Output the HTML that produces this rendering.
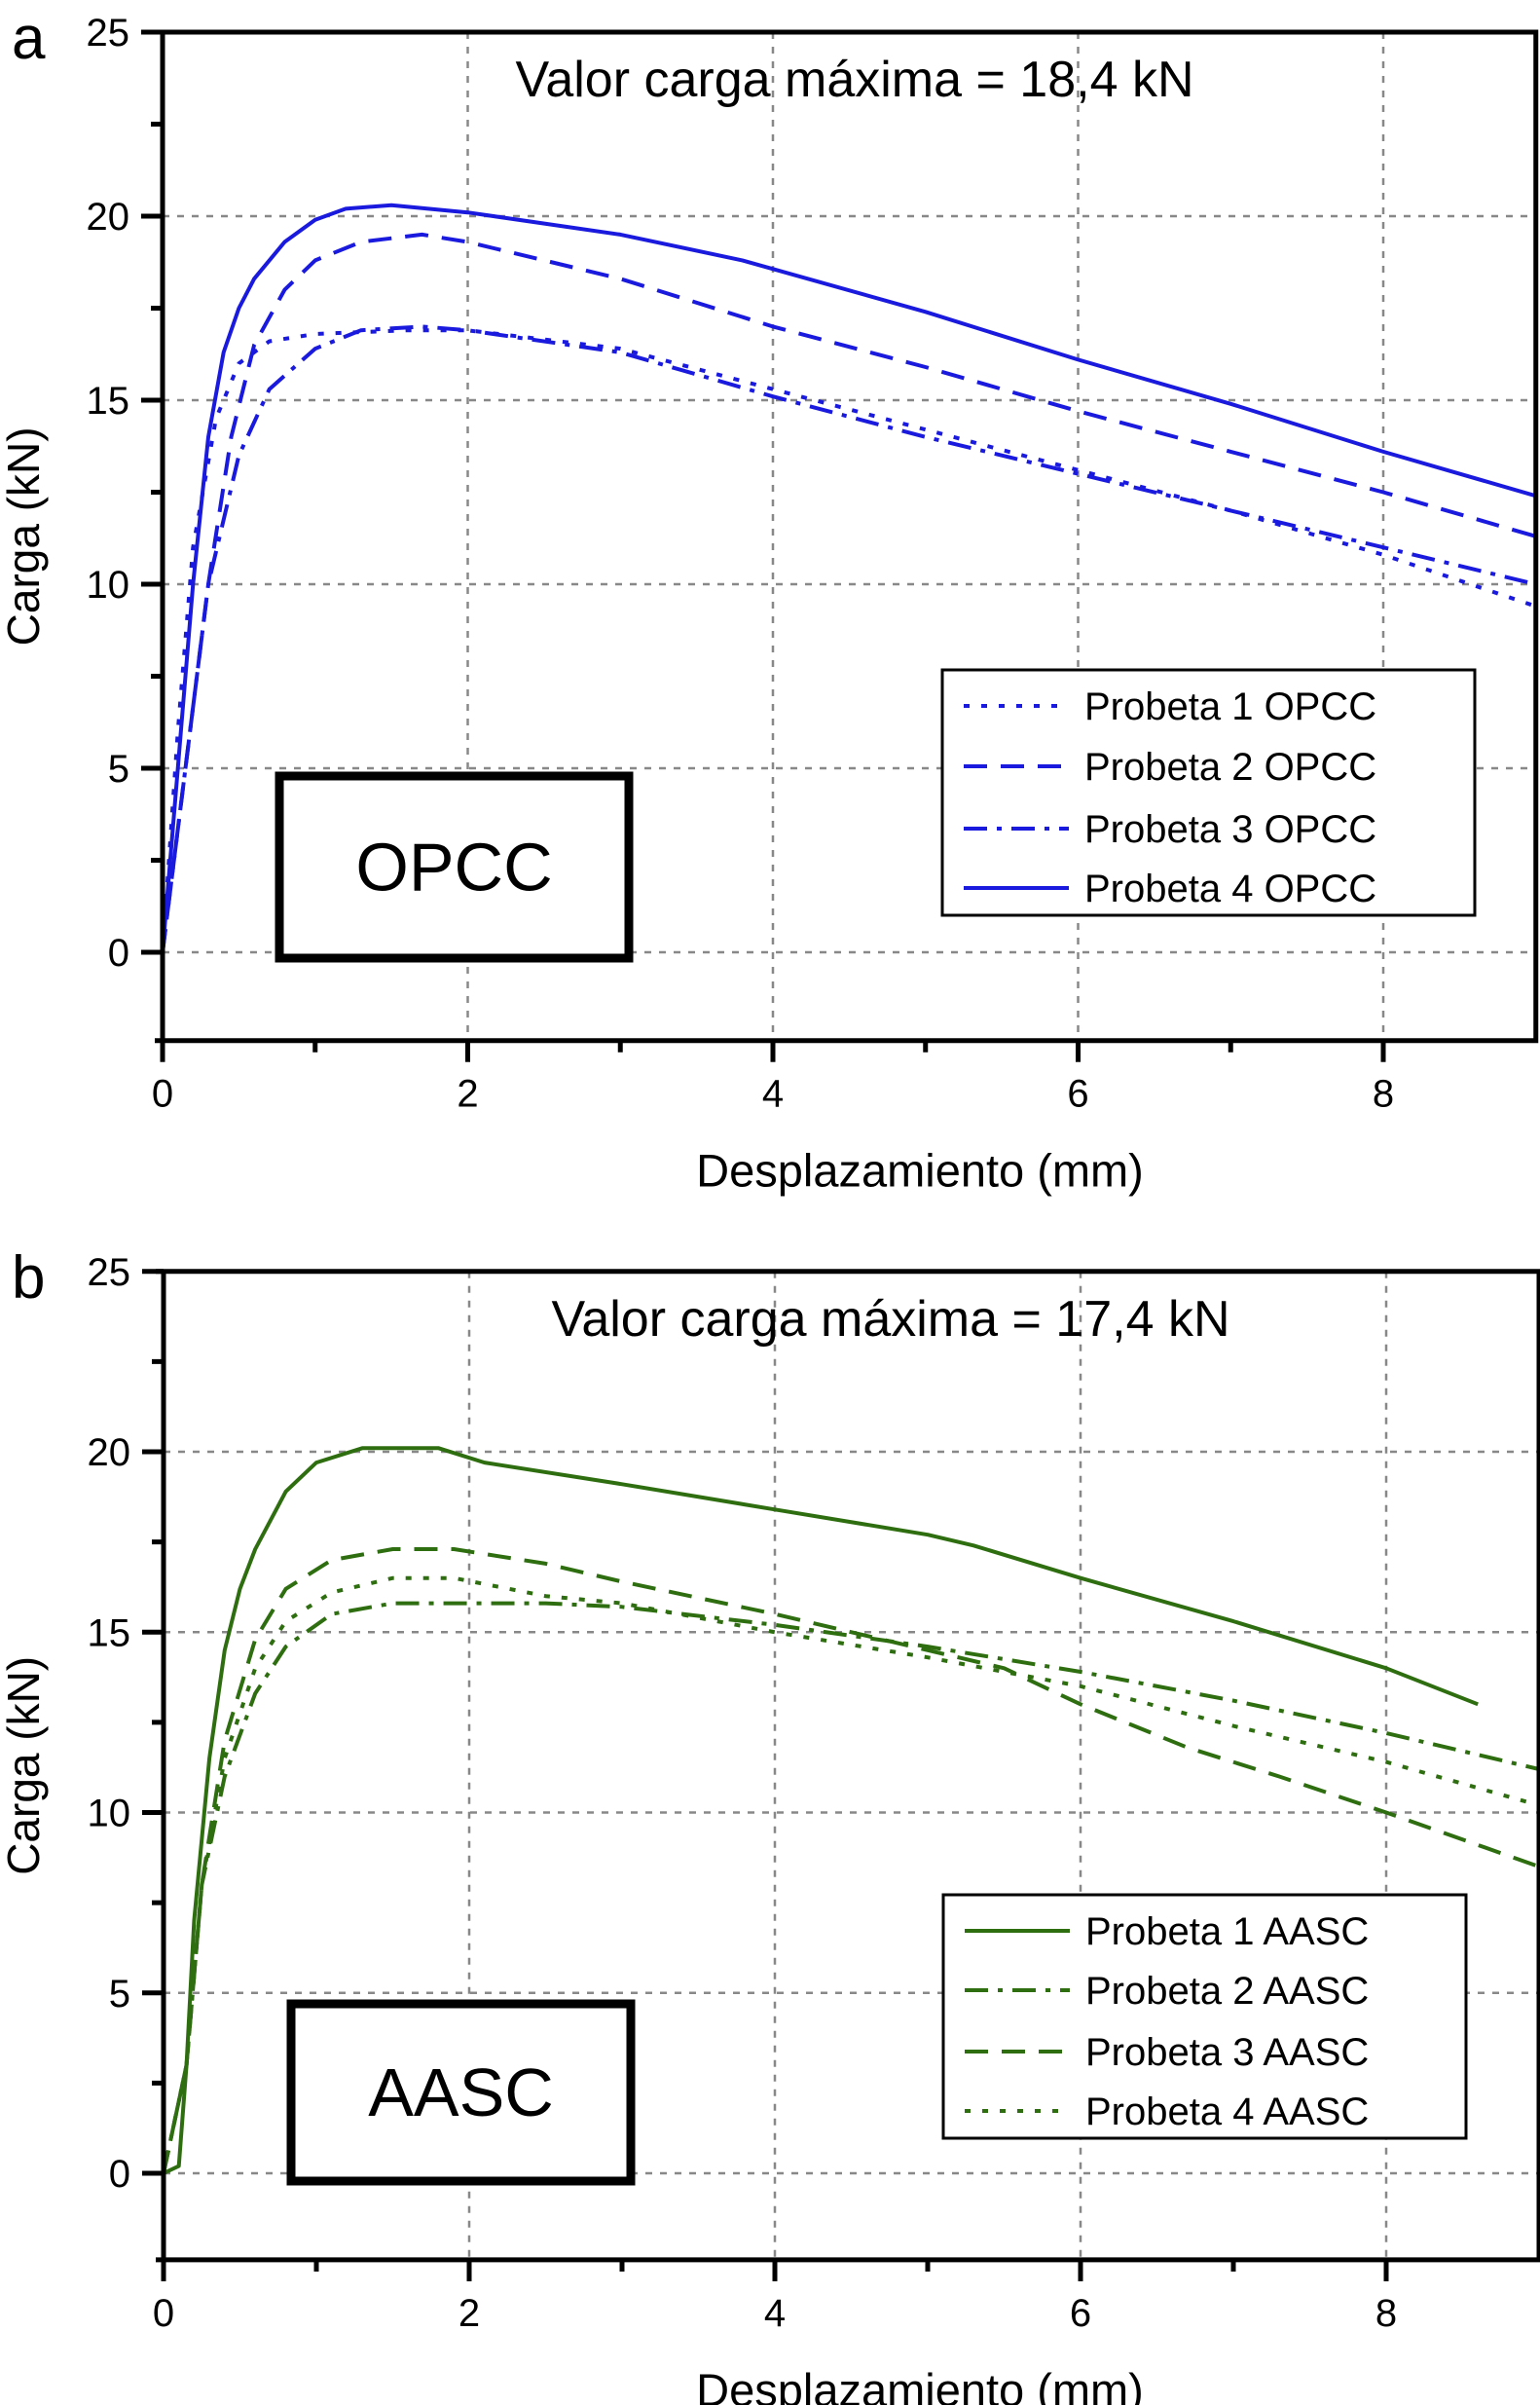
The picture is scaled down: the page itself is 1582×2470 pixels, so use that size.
<!DOCTYPE html>
<html><head><meta charset="utf-8">
<style>
html,body{margin:0;padding:0;background:#fff;}
svg{display:block;font-family:"Liberation Sans",Arial,sans-serif;}
</style></head>
<body>
<svg id="fig" xmlns="http://www.w3.org/2000/svg" width="1582" height="2470" viewBox="0 0 1582 2470">
<rect width="1582" height="2470" fill="#fff"/>
<g id="pa"></g>
<g id="pb"></g>
</svg>
<script>
// ---- Panel A data (OPCC) ----
const xTicks = [0, 2, 4, 6, 8];
const yTicks = [0, 5, 10, 15, 20, 25];
const a1x = [0,0.1,0.2,0.35,0.5,0.7,1,1.6,2,3,4,5,6,7,8,9];
const a1y = [0,6,11,14.5,16,16.6,16.8,16.9,16.9,16.4,15.3,14.2,13.1,12.0,10.8,9.4];
const a2x = [0,0.15,0.3,0.45,0.6,0.8,1.0,1.3,1.7,2,3,4,5,6,7,8,9];
const a2y = [0,5,10,14,16.5,18,18.8,19.3,19.5,19.3,18.3,17.0,15.9,14.7,13.6,12.5,11.3];
const a3x = [0,0.15,0.3,0.5,0.7,1,1.3,1.7,2,3,4,5,6,7,8,9];
const a3y = [0,5,10,13.5,15.3,16.4,16.9,17.0,16.9,16.3,15.1,14.0,13.0,12.0,11.0,10.0];
const a4x = [0,0.1,0.2,0.3,0.4,0.5,0.6,0.8,1.0,1.2,1.5,2,3,3.8,5,6,7,8,9];
const a4y = [0,5,10,14,16.3,17.5,18.3,19.3,19.9,20.2,20.3,20.1,19.5,18.8,17.4,16.1,14.9,13.6,12.4];
// ---- Panel B data (AASC) ----
const b1x = [0,0.1,0.15,0.2,0.3,0.4,0.5,0.6,0.8,1.0,1.3,1.8,2.1,3,4,5,5.3,6,7,8,8.6];
const b1y = [0,0.2,3,7,11.5,14.5,16.2,17.3,18.9,19.7,20.1,20.1,19.7,19.1,18.4,17.7,17.4,16.5,15.3,14.0,13.0];
const b2x = [0,0.15,0.25,0.4,0.6,0.8,1.1,1.5,2,2.5,3,4,5,6,7,8,9];
const b2y = [0,3,8,11,13.3,14.6,15.5,15.8,15.8,15.8,15.7,15.2,14.6,13.9,13.1,12.2,11.2];
const b3x = [0,0.15,0.25,0.4,0.6,0.8,1.1,1.5,1.9,2.5,3,4,5,5.5,6,6.7,7.3,8,9];
const b3y = [0,3,8,12,14.8,16.2,17.0,17.3,17.3,16.9,16.4,15.5,14.5,14.0,13.0,11.8,11.0,10.0,8.5];
const b4x = [0,0.15,0.25,0.4,0.6,0.8,1.1,1.5,1.9,2.5,3,4,5,6,7,8,9];
const b4y = [0,3,8,11.5,14,15.3,16.1,16.5,16.5,16.0,15.8,15.0,14.3,13.5,12.4,11.4,10.2];

const NS = "http://www.w3.org/2000/svg";
function mk(parent, tag, attrs, text){
  const e = document.createElementNS(NS, tag);
  for (const k in attrs) e.setAttribute(k, attrs[k]);
  if (text !== undefined) e.textContent = text;
  parent.appendChild(e);
  return e;
}
const DASH = {solid:"none", dot:"6 12", dash:"24 14", dashdot:"24 10 5 10"};

function panel(g, cfg){
  const X = v => cfg.x0 + v*cfg.xs;
  const Y = v => cfg.y0 - v*cfg.ys;
  const left = X(0), right = X(9), top = Y(25), bottom = Y(-2.4);
  [0,5,10,15,20].forEach(v=>{
    const l = mk(g,"line",{x1:left,x2:right,y1:Y(v),y2:Y(v),stroke:"#888","stroke-width":2.5,"stroke-dasharray":"7 8"});
    
    
  });
  [2,4,6,8].forEach(v=>{
    const l = mk(g,"line",{x1:X(v),x2:X(v),y1:top,y2:bottom,stroke:"#888","stroke-width":2.5,"stroke-dasharray":"7 8"});
    
    
  });
  cfg.series.forEach(s=>{
    let d = "";
    s.x.forEach((xv,i)=>{ d += (i?"L":"M") + X(xv).toFixed(1) + "," + Y(s.y[i]).toFixed(1); });
    const p = mk(g,"path",{d:d,fill:"none",stroke:cfg.color,"stroke-width":4,"stroke-dasharray":DASH[s.style],"stroke-linejoin":"round"});
    
    
  });
  const fr = mk(g,"path",{d:`M${left-8},${top}H${right}V${bottom}H${left-8}M${left},${top}V${bottom}`,fill:"none",stroke:"#000","stroke-width":5});
  
  
  yTicks.forEach(v=>{
    mk(g,"line",{x1:left-22,x2:left,y1:Y(v),y2:Y(v),stroke:"#000","stroke-width":5});
    const t = mk(g,"text",{x:left-34,y:Y(v)+14,"text-anchor":"end","font-size":40},String(v));
    
    
  });
  [2.5,7.5,12.5,17.5,22.5].forEach(v=>mk(g,"line",{x1:left-12,x2:left,y1:Y(v),y2:Y(v),stroke:"#000","stroke-width":5}));
  xTicks.forEach(v=>{
    mk(g,"line",{x1:X(v),x2:X(v),y1:bottom,y2:bottom+22,stroke:"#000","stroke-width":5});
    const t = mk(g,"text",{x:X(v),y:bottom+68,"text-anchor":"middle","font-size":40},String(v));
    
    
  });
  [1,3,5,7].forEach(v=>mk(g,"line",{x1:X(v),x2:X(v),y1:bottom,y2:bottom+12,stroke:"#000","stroke-width":5}));
  const pl = mk(g,"text",{x:12,y:top+27,"font-size":62},cfg.letter);
  
  
  const tt = mk(g,"text",{x:cfg.titleX,y:top+66,"text-anchor":"middle","font-size":52},cfg.title);
  
  
  const xt = mk(g,"text",{x:945,y:bottom+150,"text-anchor":"middle","font-size":47},"Desplazamiento (mm)");
  
  
  const cy = (top+bottom)/2;
  const yt = mk(g,"text",{x:40,y:cy,"text-anchor":"middle","font-size":46,transform:`rotate(-90 40 ${cy})`},"Carga (kN)");
  
  
  const b = cfg.box;
  const br = mk(g,"rect",{x:b[0],y:b[1],width:b[2]-b[0],height:b[3]-b[1],fill:"#fff",stroke:"#000","stroke-width":9});
  
  
  const bt = mk(g,"text",{x:(b[0]+b[2])/2,y:(b[1]+b[3])/2+24,"text-anchor":"middle","font-size":70},cfg.boxText);
  
  
  const L = cfg.legend;
  const lr = mk(g,"rect",{x:L[0],y:L[1],width:L[2]-L[0],height:L[3]-L[1],fill:"#fff",stroke:"#000","stroke-width":3});
  
  
  cfg.legendOrder.forEach((idx,i)=>{
    const s = cfg.series[idx];
    const yy = cfg.legendRows[i];
    const ln = mk(g,"line",{x1:L[0]+22,x2:L[0]+130,y1:yy,y2:yy,stroke:cfg.color,"stroke-width":4,"stroke-dasharray":DASH[s.style]});
    
    
    const tx = mk(g,"text",{x:L[0]+146,y:yy+14,"font-size":40},s.label);
    
    
  });
}

panel(document.getElementById('pa'),{
  x0:167, xs:156.75, y0:978, ys:37.8, color:"#1a1adf", letter:"a",
  title:"Valor carga máxima = 18,4 kN", titleX:878,
  box:[287,797,646,984], boxText:"OPCC",
  legend:[968,688,1515,940], legendRows:[725,787,851,912], legendOrder:[0,1,2,3],
  series:[
    {x:a1x,y:a1y,style:"dot",name:"line-probeta-1-opcc",label:"Probeta 1 OPCC"},
    {x:a2x,y:a2y,style:"dash",name:"line-probeta-2-opcc",label:"Probeta 2 OPCC"},
    {x:a3x,y:a3y,style:"dashdot",name:"line-probeta-3-opcc",label:"Probeta 3 OPCC"},
    {x:a4x,y:a4y,style:"solid",name:"line-probeta-4-opcc",label:"Probeta 4 OPCC"}
  ]
});
panel(document.getElementById('pb'),{
  x0:168, xs:157, y0:2232, ys:37.05, color:"#2f6e10", letter:"b",
  title:"Valor carga máxima = 17,4 kN", titleX:915,
  box:[299,2058,648,2240], boxText:"AASC",
  legend:[969,1946,1506,2196], legendRows:[1983,2044,2107,2168], legendOrder:[0,1,2,3],
  series:[
    {x:b1x,y:b1y,style:"solid",name:"line-probeta-1-aasc",label:"Probeta 1 AASC"},
    {x:b2x,y:b2y,style:"dashdot",name:"line-probeta-2-aasc",label:"Probeta 2 AASC"},
    {x:b3x,y:b3y,style:"dash",name:"line-probeta-3-aasc",label:"Probeta 3 AASC"},
    {x:b4x,y:b4y,style:"dot",name:"line-probeta-4-aasc",label:"Probeta 4 AASC"}
  ]
});
</script>
</body></html>
